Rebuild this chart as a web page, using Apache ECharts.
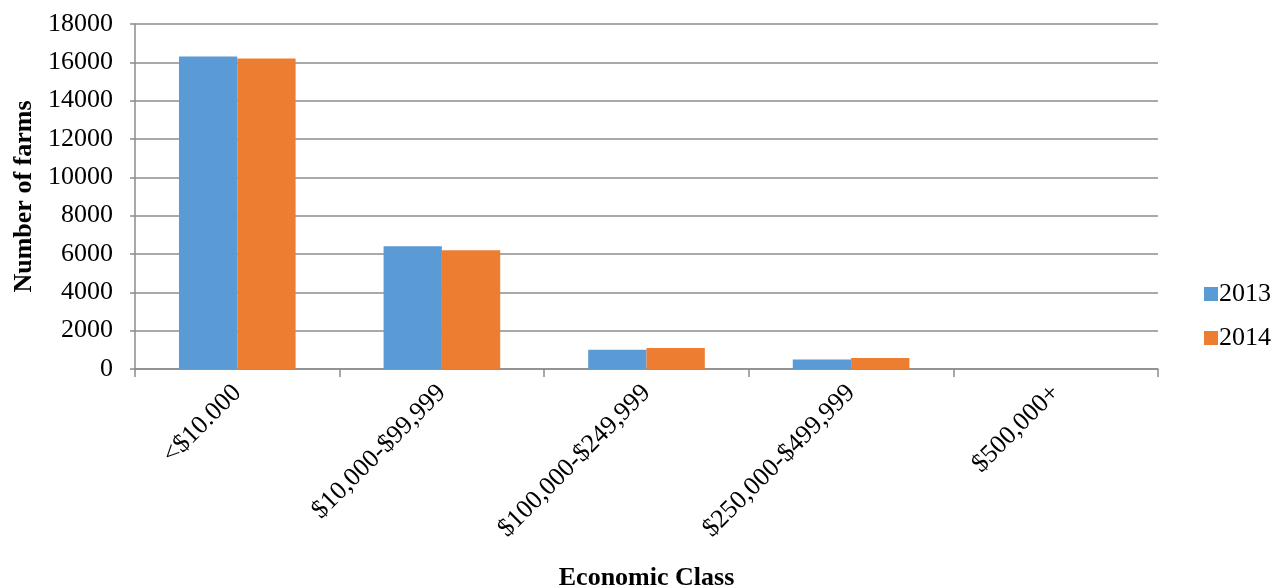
<!DOCTYPE html>
<html>
<head>
<meta charset="utf-8">
<script src="https://cdn.jsdelivr.net/npm/echarts@6/dist/echarts.min.js"></script>
<style>html,body{margin:0;padding:0;background:#fff;}#c{width:1276px;height:587px;}</style>
</head>
<body>
<div id="c"></div>
<script>
const categories = ["<$10.000", "$10,000-$99,999", "$100,000-$249,999", "$250,000-$499,999", "$500,000+"];
const values2013 = [16300, 6400, 1000, 500, 0];
const values2014 = [16200, 6200, 1100, 570, 0];
const yTicks = [0, 2000, 4000, 6000, 8000, 10000, 12000, 14000, 16000, 18000];

const FONT = '"Liberation Serif", "Times New Roman", serif';
const chart = echarts.init(document.getElementById('c'));
chart.setOption({
  animation: false,
  textStyle: { fontFamily: FONT, color: '#000' },
  grid: { left: 135, right: 118, top: 24, bottom: 218, containLabel: false, outerBoundsMode: 'none' },
  legend: {
    orient: 'vertical', left: 1199, top: 276,
    itemWidth: 14, itemHeight: 14, itemGap: 18,
    icon: 'rect',
    textStyle: { fontFamily: FONT, fontSize: 26, color: '#000', padding: [0, 0, 0, -4] },
    data: ['2013', '2014']
  },
  xAxis: {
    type: 'category', data: categories,
    name: 'Economic Class', nameLocation: 'middle', nameGap: 196,
    nameTextStyle: { fontFamily: FONT, fontSize: 26, fontWeight: 'bold', color: '#000' },
    axisLine: { lineStyle: { color: '#8c8c8c', width: 1.5 } },
    axisTick: { show: true, length: 8, lineStyle: { color: '#8c8c8c', width: 1.5 } },
    axisLabel: { rotate: 45, fontFamily: FONT, fontSize: 26, color: '#000', margin: 20, interval: 0 }
  },
  yAxis: {
    type: 'value', min: yTicks[0], max: yTicks[yTicks.length - 1], interval: 2000,
    name: 'Number of farms', nameLocation: 'middle', nameGap: 95,
    nameTextStyle: { fontFamily: FONT, fontSize: 26, fontWeight: 'bold', color: '#000' },
    axisLine: { show: true, lineStyle: { color: '#8c8c8c', width: 1.5 } },
    axisTick: { show: true, length: 5, lineStyle: { color: '#8c8c8c', width: 1.5 } },
    splitLine: { lineStyle: { color: '#8c8c8c', width: 1.5 } },
    axisLabel: { fontFamily: FONT, fontSize: 26, color: '#000', margin: 22, formatter: v => String(v) }
  },
  series: [
    { name: '2013', type: 'bar', data: values2013, barGap: '0%', barCategoryGap: '43%',
      itemStyle: { color: '#5B9BD5' } },
    { name: '2014', type: 'bar', data: values2014, barGap: '0%', barCategoryGap: '43%',
      itemStyle: { color: '#ED7D31' } }
  ]
});
</script>
</body>
</html>
